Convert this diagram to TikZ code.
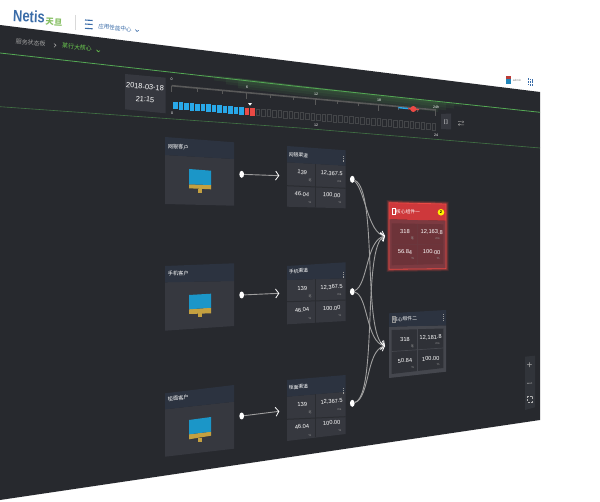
\documentclass[tikz,border=0pt]{standalone}
\usepackage{fontspec}
\setmainfont{Liberation Sans}
\newfontfamily\cjk{Noto Sans CJK SC}
\usetikzlibrary{arrows.meta, shapes.geometric}

\definecolor{screenbg}{HTML}{27292E}
\definecolor{headbg}{HTML}{2C3340}
\definecolor{bodybg}{HTML}{36383F}
\definecolor{celldark}{HTML}{2A2C31}
\definecolor{barblue}{HTML}{29A8E8}
\definecolor{barred}{HTML}{EA4A45}
\definecolor{linegreen}{HTML}{54A854}
\definecolor{netisblue}{HTML}{3A6CA8}
\definecolor{netisgreen}{HTML}{86BF63}
\definecolor{monblue}{HTML}{1B96C8}
\definecolor{mongold}{HTML}{C4A040}
\definecolor{redhead}{HTML}{CE383B}
\definecolor{redbody}{HTML}{7C3A41}
\definecolor{greybody}{HTML}{45474E}

\tikzset{
  txt/.style={inner sep=0pt,text=white},
  headtxt/.style={txt,font=\cjk\fontsize{4.8}{5}\selectfont},
  valtxt/.style={txt,font=\fontsize{5.7}{6}\selectfont},
  unittxt/.style={inner sep=0pt,text=gray!80!white,font=\fontsize{3}{4}\selectfont},
  dotnode/.style={ellipse,fill=white,inner sep=0pt,minimum width=4.7pt,minimum height=7pt},
  link/.style={draw=gray!75!white,line width=.9pt,-{Straight Barb[white,length=3.2pt,width=9pt,line width=.8pt]}},
  menu/.style={draw=gray!80!white,line width=.8pt,dash pattern=on .9pt off .9pt},
  chev/.style={line width=.6pt}
}

\begin{document}
\begin{tikzpicture}[x=1pt,y=-1pt]
\useasboundingbox (0,0) rectangle (600,502);

% Screen
\fill[screenbg] (0,25) -- (540,92) -- (540,420) -- (0,500) -- cycle;

% Page head
\node[inner sep=0pt,text=netisblue,font=\bfseries\fontsize{13}{14}\selectfont,yscale=1.25,rotate=-3] (logo) at (29,16.5) {Netis};
\node[inner sep=0pt,text=netisgreen,font=\cjk\bfseries\fontsize{8.4}{9}\selectfont,rotate=-3] (logocn) at (54,22) {天旦};
\draw[gray!30!white,line width=.5pt] (75.3,15) -- (75.3,30);
\foreach \y in {20,24,28.3} {
    \draw[netisblue,line width=1.1pt] (85,\y) -- (92.7,\y+.5);
}
\node[inner sep=0pt,text=netisblue,font=\cjk\fontsize{5.6}{6}\selectfont,rotate=-6] (appname) at (115,28) {应用性能中心};
\draw[netisblue,chev] (135.3,29.5) -- (137,31.5) -- (138.8,30.3);

% Breadcrumb
\node[inner sep=0pt,text=gray!75!white,font=\cjk\fontsize{6}{6}\selectfont,rotate=-6] (crumba) at (30.7,42.7) {服务状态板};
\draw[gray!75!white,chev] (54,43.5) -- (56,45.3) -- (54,47.3);
\node[inner sep=0pt,text=netisgreen!80!green,font=\cjk\fontsize{6}{6}\selectfont,rotate=-6] (crumbb) at (77,47.3) {某行大核心};
\draw[netisgreen!80!green,chev] (96.5,49.8) -- (98.3,51.8) -- (100,50.6);

% Green lines
\foreach \k in {1,...,4} {
    \fill[linegreen,opacity=.09] (190+12*\k,{73.9+.11*(12*\k-10)}) -- (470-8*\k,{105.2-.1*8*\k}) -- (470-8*\k,{105.2-.1*8*\k+2.5*\k}) -- (190+12*\k,{73.9+.11*(12*\k-10)+2.5*\k}) -- cycle;
}
\draw[linegreen,line width=.8pt] (0,53) -- (300,86.7) -- (540,112.3);
\draw[linegreen!60!screenbg,line width=.6pt] (0,106.7) -- (300,128) -- (540,148);

% Date box
\fill[bodybg] (125,74) -- (165.7,77.7) -- (165.7,113.3) -- (125,109.3) -- cycle;
\node[txt,font=\fontsize{7.4}{8}\selectfont,rotate=-5] (datetxt) at (145,86.7) {2018-03-18};
\node[txt,font=\fontsize{7.4}{8}\selectfont,rotate=-5] (timetxt) at (145,99.3) {21:15};

% Ruler
\draw[gray!70!black,line width=1.6pt] (171.7,85.7) -- (436,110);
\foreach \i in {0,...,12} {
    \pgfmathsetmacro{\xt}{171.7+26*\i-.333*\i*\i}
    \pgfmathsetmacro{\yt}{85.7+.092*(\xt-171.7)}
    \pgfmathsetmacro{\tl}{mod(\i,3)==0 ? 6 : 3.5}
    \draw[gray!70!black,line width=.6pt] (\xt,\yt) -- (\xt,\yt+\tl);
}
\foreach \lab/\x/\y in {0/171.7/79,6/247/87,12/316/94,18/379/100.5,24h/436/106.7,0/172/113,12/316/125,24/436/135} {
    \node[inner sep=0pt,text=white,font=\fontsize{3.6}{4}\selectfont] at (\x,\y) {\lab};
}
\draw[barblue,line width=1.4pt] (398.3,107.6) -- (408.3,108.6);
\draw[barred,line width=1.4pt] (408.3,108.6) -- (419,109.6);
\fill[barred] (413.3,109) circle (3);

% Time bars
\foreach \i in {0,...,47} {
    \pgfmathsetmacro{\xa}{173+5.5*\i}
    \pgfmathsetmacro{\ya}{101.7+.451*\i}
    \ifnum\i<13
        \fill[barblue] (\xa,\ya) rectangle (\xa+4.6,\ya+7.5);
    \else\ifnum\i<15
        \fill[barred] (\xa,\ya) rectangle (\xa+4.9,\ya+7.5);
    \else
        \draw[gray!32!screenbg,line width=.6pt] (\xa+.4,\ya+.4) rectangle (\xa+4.2,\ya+7.1);
    \fi\fi
}
\fill[white] (248,103) -- (252,103.3) -- (250,105.6) -- cycle;

% Buttons near bars
\fill[bodybg] (441,114) -- (451,113.5) -- (451,129.5) -- (441,129) -- cycle;
\node[txt,font=\fontsize{5}{6}\selectfont] (pausebtn) at (446,122) {[\,]};
\draw[gray!85!white,line width=.5pt,-{Straight Barb[length=1.2pt,width=2.2pt]}] (458,121.5) -- (464,122);
\draw[gray!85!white,line width=.5pt,-{Straight Barb[length=1.2pt,width=2.2pt]}] (464,125) -- (458,124.5);

% Top right icons
\fill[barred!80!black] (506,76) rectangle (511,79.5);
\fill[barblue!80!black] (506,79.5) rectangle (511,84);
\node[inner sep=0pt,text=gray,font=\fontsize{3}{3}\selectfont] (usertxt) at (517,80.5) {admin};
\foreach \i in {0,1,2} {
    \foreach \j in {0,1,2} {
        \fill[netisblue] (528+2.1*\i-.5,78.5+2.6*\j+.2*\i) rectangle +(1.5,1.7);
    }
}

% Left cards
\foreach \n/\lab/\rot/\ya/\yb/\yc/\yd/\ye/\yf/\yl in {
    1/网银客户/-4.4/137/142.3/155/159/204/205.7/147,
    2/手机客户/2.2/266/263.3/282.3/281/330.7/326/273.3,
    3/柜面客户/6.9/393.3/385/409.3/401.7/456.7/448.7/398.3} {
    \fill[bodybg] (165,\yc) -- (234,\yd) -- (234,\yf) -- (165,\ye) -- cycle;
    \fill[headbg] (165,\ya) -- (234,\yb) -- (234,\yd) -- (165,\yc) -- cycle;
    \node[headtxt,font=\cjk\fontsize{5.2}{6}\selectfont,rotate=\rot] (client\n) at (178.3,\yl) {\lab};
}

% Monitors
\foreach \n/\ma/\mb/\mc/\md/\me/\mf/\st in {
    1/169/170.7/184.3/185/188.3/189.3/189,
    2/295/293.7/309.3/307.7/314/313.3/313.5,
    3/420/417/434.3/431.7/439.3/435.7/438.5} {
    \fill[mongold] (198,\st) rectangle (202,\st+3.6);
    \fill[mongold] (189,\mc) -- (211,\md) -- (211,\mf) -- (189,\me) -- cycle;
    \fill[monblue] (189,\ma) -- (211,\mb) -- (211,\md) -- (189,\mc) -- cycle;
}

% Middle cards
\foreach \n/\lab/\rot/\ya/\yb/\yc/\yd/\ye/\yf/\rl/\rr/\yl in {
    1/网银渠道/-4.1/146/150.3/162.3/165.7/206.7/208.3/185.7/188.3/155,
    2/手机渠道/3.6/266/262.3/280/278.3/324.3/321/301.7/300/271,
    3/柜面渠道/4.9/380/375/396.7/391.7/441/434/419.3/416.7/387} {
    \fill[bodybg] (287,\yc) -- (345.7,\yd) -- (345.7,\yf) -- (287,\ye) -- cycle;
    \fill[headbg] (287,\ya) -- (345.7,\yb) -- (345.7,\yd) -- (287,\yc) -- cycle;
    \draw[celldark,line width=1pt] (287,\rl) -- (345.7,\rr);
    \draw[celldark,line width=1pt] (315.7,{(\yc+\yd)/2}) -- (315.7,{(\ye+\yf)/2});
    \node[headtxt,rotate=\rot] (group\n) at (298.5,\yl) {\lab};
    \draw[menu] (343.3,{\yl+1}) -- (343.3,{\yl+6.5});
}

% Middle card values
\foreach \n/\rot/\ya/\yb/\yc/\yd in {
    1/-4.1/172.3/173.7/194/195,
    2/3.6/288.3/287.3/310/308.3,
    3/4.9/404.3/401.7/426.7/422.7} {
    \node[valtxt,rotate=\rot] (gcount\n) at (302.3,\ya) {139};
    \node[valtxt,rotate=\rot] (gtime\n) at (331.7,\yb) {12,367.5};
    \node[valtxt,rotate=\rot] (grate\n) at (302,\yc) {46.04};
    \node[valtxt,rotate=\rot] (gok\n) at (331.7,\yd) {100.00};
    \node[unittxt,font=\cjk\fontsize{3}{4}\selectfont] (gua\n) at (310,\ya+7.7) {笔};
    \node[unittxt] (gub\n) at (339.3,\yb+7.7) {ms};
    \node[unittxt] (guc\n) at (310,\yc+8.3) {\%};
    \node[unittxt] (gud\n) at (340,\yd+7.3) {\%};
}

% Red card
\foreach \w/\op in {5/.15,3/.3} {
    \draw[barred,line width=\w pt,opacity=\op] (389,202.7) -- (446,204) -- (446,268.7) -- (389,269.3) -- cycle;
}
\fill[redbody] (389,219.3) -- (446,220.7) -- (446,268.7) -- (389,269.3) -- cycle;
\fill[redhead] (389,202.7) -- (446,204) -- (446,220.7) -- (389,219.3) -- cycle;
\fill[redbody!88!black] (391.7,223.3) -- (443.3,224.3) -- (443.3,264) -- (391.7,265.3) -- cycle;
\draw[redbody!80!screenbg,line width=.7pt] (391.7,244.8) -- (443.3,244.2);
\draw[redbody!80!screenbg,line width=.7pt] (417.5,223.8) -- (417.5,264.6);
\draw[barred,line width=.8pt] (389,202.7) -- (446,204) -- (446,268.7) -- (389,269.3) -- cycle;
\node[headtxt,rotate=-1.3] (coreone) at (408,211.7) {核心组件一};
\draw[white,line width=.4pt] (392.5,208.5) rectangle (395.5,214);
\node[circle,fill=yellow,inner sep=0pt,minimum size=6.6pt,text=black,font=\bfseries\fontsize{4}{4}\selectfont] (alarm) at (441,212.3) {2};

% Grey card
\fill[greybody] (389,326.7) -- (446,325.3) -- (446,371.7) -- (389,378) -- cycle;
\fill[headbg] (389,313.3) -- (446,310) -- (446,325.3) -- (389,326.7) -- cycle;
\fill[celldark!80!greybody] (391.7,330) -- (443.3,328.5) -- (443.3,368) -- (391.7,374) -- cycle;
\draw[greybody,line width=.7pt] (391.7,351.5) -- (443.3,348);
\draw[greybody,line width=.7pt] (417.5,329.3) -- (417.5,371);
\node[headtxt,rotate=3] (coretwo) at (405,319) {核心组件二};
\draw[gray!85!white,line width=.4pt] (392.5,316.5) rectangle (395.5,322);
\draw[menu] (443.3,314.5) -- (443.3,320);

% Values of the two right cards
\foreach \n/\rot/\ya/\xb/\yb/\lb/\lc/\yc/\yd in {
    1/-1/231.3/431.7/232.3/{12,163.8}/56.84/252/252,
    2/3/339.3/430.7/337.7/{12,181.8}/50.84/360.7/358.7} {
    \node[valtxt,rotate=\rot] (ccount\n) at (405,\ya) {318};
    \node[valtxt,rotate=\rot] (ctime\n) at (\xb,\yb) {\lb};
    \node[valtxt,rotate=\rot] (crate\n) at (405,\yc) {\lc};
    \node[valtxt,rotate=\rot] (cok\n) at (\xb,\yd) {100.00};
    \node[unittxt,font=\cjk\fontsize{3}{4}\selectfont] (cua\n) at (412.3,\ya+7) {笔};
    \node[unittxt] (cub\n) at (437.7,\yb+6.5) {ms};
    \node[unittxt] (cuc\n) at (412.7,\yc+6.5) {\%};
    \node[unittxt] (cud\n) at (438.3,\yd+6) {\%};
}

% Zoom panel
\fill[bodybg!70!screenbg] (525,356.7) -- (535,355.7) -- (535,407.3) -- (525,410) -- cycle;
\node[inner sep=0pt,text=gray!70!white,font=\fontsize{10}{10}\selectfont] (zoomin) at (529.5,365.7) {+};
\draw[gray!70!white,line width=.6pt] (527,383.3) -- (532,383);
\draw[gray!60!white,line width=.5pt,dash pattern=on 2pt off 1.4pt] (527,396) rectangle (532,402);

% Dots and arrow ends
\foreach \n/\xa/\ya/\xb/\yb in {1/241.7/174.3/279.3/175.7,2/241.7/295/279.3/293.3,3/241.7/416/279.3/411.3} {
    \node[dotnode] (ldot\n) at (\xa,\ya) {};
    \coordinate (ltip\n) at (\xb,\yb);
    \draw[link] (ldot\n) -- (ltip\n);
}
\foreach \n/\y in {1/179.3,2/291.7,3/403.3} {
    \node[dotnode] (rdot\n) at (352.3,\y) {};
}
\coordinate (redtip) at (385,236);
\coordinate (greytip) at (385,346);

% Links to the right cards
\draw[link] (rdot1) .. controls (365,190) and (368,233) .. (redtip);
\draw[link] (rdot2) .. controls (368,285) and (366,240) .. (redtip);
\draw[link] (rdot3) .. controls (378,395) and (362,245) .. (redtip);
\draw[link] (rdot1) .. controls (378,190) and (362,335) .. (greytip);
\draw[link] (rdot2) .. controls (368,295) and (366,342) .. (greytip);
\draw[link] (rdot3) .. controls (370,398) and (366,350) .. (greytip);
\end{tikzpicture}
\end{document}
